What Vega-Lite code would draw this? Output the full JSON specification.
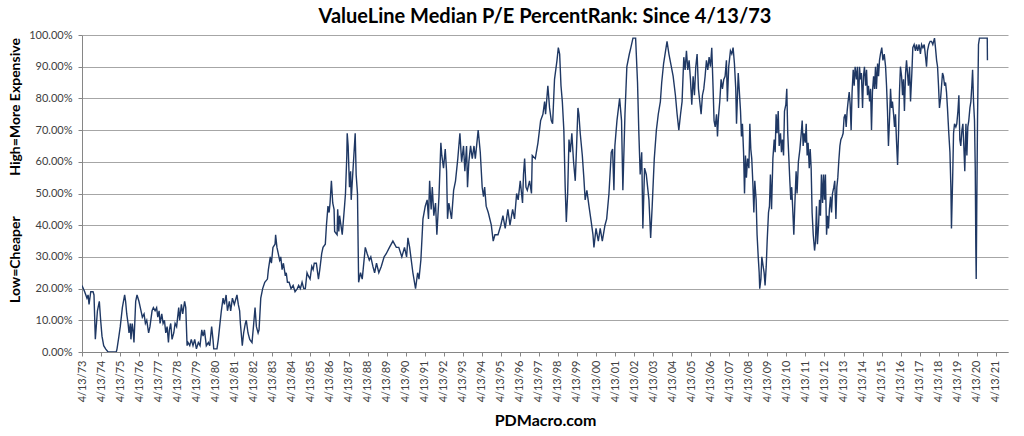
{
  "$schema": "https://vega.github.io/schema/vega-lite/v6.json",
  "autosize": {"type": "none"},
  "width": 926,
  "height": 317,
  "padding": {"left": 82, "top": 35, "right": 16, "bottom": 84},
  "background": "white",
  "title": {
    "text": "ValueLine Median P/E PercentRank: Since 4/13/73",
    "font": "Lato",
    "fontSize": 20,
    "fontWeight": "bold",
    "color": "#000000",
    "anchor": "middle",
    "offset": 2
  },
  "data": {
    "values": [
      {"t": 1973.28, "v": 0.21}, {"t": 1973.42, "v": 0.19}, {"t": 1973.54, "v": 0.17}, {"t": 1973.60, "v": 0.18},
      {"t": 1973.65, "v": 0.15}, {"t": 1973.74, "v": 0.19}, {"t": 1973.86, "v": 0.19}, {"t": 1973.91, "v": 0.18},
      {"t": 1973.98, "v": 0.04}, {"t": 1974.09, "v": 0.13}, {"t": 1974.19, "v": 0.16}, {"t": 1974.26, "v": 0.10},
      {"t": 1974.33, "v": 0.05}, {"t": 1974.42, "v": 0.02}, {"t": 1974.52, "v": 0.01}, {"t": 1974.65, "v": 0.0},
      {"t": 1975.08, "v": 0.0}, {"t": 1975.12, "v": 0.01}, {"t": 1975.22, "v": 0.05}, {"t": 1975.29, "v": 0.08},
      {"t": 1975.40, "v": 0.14}, {"t": 1975.52, "v": 0.18}, {"t": 1975.57, "v": 0.16}, {"t": 1975.63, "v": 0.12},
      {"t": 1975.70, "v": 0.09}, {"t": 1975.75, "v": 0.06}, {"t": 1975.82, "v": 0.09}, {"t": 1975.85, "v": 0.04},
      {"t": 1975.92, "v": 0.09}, {"t": 1975.96, "v": 0.07}, {"t": 1976.01, "v": 0.03}, {"t": 1976.10, "v": 0.16},
      {"t": 1976.17, "v": 0.18}, {"t": 1976.27, "v": 0.16}, {"t": 1976.38, "v": 0.13}, {"t": 1976.45, "v": 0.11},
      {"t": 1976.54, "v": 0.12}, {"t": 1976.61, "v": 0.09}, {"t": 1976.68, "v": 0.10}, {"t": 1976.78, "v": 0.06},
      {"t": 1976.85, "v": 0.08}, {"t": 1976.96, "v": 0.13}, {"t": 1977.03, "v": 0.14}, {"t": 1977.12, "v": 0.13},
      {"t": 1977.20, "v": 0.14}, {"t": 1977.26, "v": 0.11}, {"t": 1977.33, "v": 0.13}, {"t": 1977.38, "v": 0.09},
      {"t": 1977.47, "v": 0.12}, {"t": 1977.54, "v": 0.09}, {"t": 1977.61, "v": 0.10}, {"t": 1977.68, "v": 0.06},
      {"t": 1977.75, "v": 0.08}, {"t": 1977.82, "v": 0.03}, {"t": 1977.87, "v": 0.07}, {"t": 1977.94, "v": 0.09},
      {"t": 1978.01, "v": 0.04}, {"t": 1978.10, "v": 0.06}, {"t": 1978.17, "v": 0.09}, {"t": 1978.25, "v": 0.08},
      {"t": 1978.36, "v": 0.14}, {"t": 1978.41, "v": 0.10}, {"t": 1978.50, "v": 0.15}, {"t": 1978.57, "v": 0.12},
      {"t": 1978.67, "v": 0.16}, {"t": 1978.73, "v": 0.14}, {"t": 1978.80, "v": 0.02}, {"t": 1978.85, "v": 0.03},
      {"t": 1978.94, "v": 0.02}, {"t": 1979.02, "v": 0.04}, {"t": 1979.11, "v": 0.02}, {"t": 1979.20, "v": 0.04},
      {"t": 1979.29, "v": 0.01}, {"t": 1979.39, "v": 0.03}, {"t": 1979.48, "v": 0.02}, {"t": 1979.57, "v": 0.07},
      {"t": 1979.64, "v": 0.05}, {"t": 1979.71, "v": 0.07}, {"t": 1979.81, "v": 0.02}, {"t": 1979.92, "v": 0.03},
      {"t": 1979.99, "v": 0.02}, {"t": 1980.09, "v": 0.08}, {"t": 1980.16, "v": 0.04}, {"t": 1980.20, "v": 0.01},
      {"t": 1980.37, "v": 0.01}, {"t": 1980.44, "v": 0.04}, {"t": 1980.51, "v": 0.08}, {"t": 1980.60, "v": 0.13},
      {"t": 1980.69, "v": 0.17}, {"t": 1980.76, "v": 0.15}, {"t": 1980.85, "v": 0.18}, {"t": 1980.92, "v": 0.13},
      {"t": 1981.02, "v": 0.16}, {"t": 1981.09, "v": 0.13}, {"t": 1981.18, "v": 0.17}, {"t": 1981.28, "v": 0.15},
      {"t": 1981.42, "v": 0.18}, {"t": 1981.49, "v": 0.15}, {"t": 1981.56, "v": 0.13}, {"t": 1981.60, "v": 0.09},
      {"t": 1981.70, "v": 0.02}, {"t": 1981.77, "v": 0.06}, {"t": 1981.86, "v": 0.09}, {"t": 1981.91, "v": 0.10},
      {"t": 1982.00, "v": 0.06}, {"t": 1982.09, "v": 0.04}, {"t": 1982.21, "v": 0.03}, {"t": 1982.30, "v": 0.09},
      {"t": 1982.37, "v": 0.14}, {"t": 1982.44, "v": 0.08}, {"t": 1982.53, "v": 0.06}, {"t": 1982.58, "v": 0.07},
      {"t": 1982.67, "v": 0.17}, {"t": 1982.77, "v": 0.20}, {"t": 1982.88, "v": 0.22}, {"t": 1983.02, "v": 0.23},
      {"t": 1983.07, "v": 0.26}, {"t": 1983.17, "v": 0.30}, {"t": 1983.23, "v": 0.28}, {"t": 1983.31, "v": 0.33},
      {"t": 1983.42, "v": 0.34}, {"t": 1983.45, "v": 0.37}, {"t": 1983.52, "v": 0.33}, {"t": 1983.59, "v": 0.31},
      {"t": 1983.66, "v": 0.29}, {"t": 1983.72, "v": 0.30}, {"t": 1983.79, "v": 0.26}, {"t": 1983.86, "v": 0.28},
      {"t": 1983.96, "v": 0.24}, {"t": 1984.01, "v": 0.25}, {"t": 1984.07, "v": 0.22}, {"t": 1984.16, "v": 0.22},
      {"t": 1984.26, "v": 0.20}, {"t": 1984.37, "v": 0.21}, {"t": 1984.47, "v": 0.19}, {"t": 1984.59, "v": 0.20},
      {"t": 1984.66, "v": 0.21}, {"t": 1984.75, "v": 0.20}, {"t": 1984.84, "v": 0.22}, {"t": 1984.93, "v": 0.20},
      {"t": 1985.01, "v": 0.20}, {"t": 1985.10, "v": 0.25}, {"t": 1985.17, "v": 0.24}, {"t": 1985.26, "v": 0.23},
      {"t": 1985.35, "v": 0.27}, {"t": 1985.42, "v": 0.26}, {"t": 1985.48, "v": 0.28}, {"t": 1985.59, "v": 0.28},
      {"t": 1985.70, "v": 0.23}, {"t": 1985.77, "v": 0.26}, {"t": 1985.87, "v": 0.31}, {"t": 1985.94, "v": 0.33},
      {"t": 1986.06, "v": 0.34}, {"t": 1986.12, "v": 0.40}, {"t": 1986.20, "v": 0.46}, {"t": 1986.26, "v": 0.44},
      {"t": 1986.31, "v": 0.47}, {"t": 1986.38, "v": 0.54}, {"t": 1986.45, "v": 0.47}, {"t": 1986.52, "v": 0.45},
      {"t": 1986.55, "v": 0.38}, {"t": 1986.68, "v": 0.37}, {"t": 1986.71, "v": 0.45}, {"t": 1986.77, "v": 0.38},
      {"t": 1986.81, "v": 0.43}, {"t": 1986.95, "v": 0.37}, {"t": 1987.07, "v": 0.46}, {"t": 1987.12, "v": 0.50},
      {"t": 1987.19, "v": 0.62}, {"t": 1987.21, "v": 0.69}, {"t": 1987.26, "v": 0.65}, {"t": 1987.33, "v": 0.52},
      {"t": 1987.39, "v": 0.57}, {"t": 1987.42, "v": 0.48}, {"t": 1987.51, "v": 0.57}, {"t": 1987.56, "v": 0.62},
      {"t": 1987.63, "v": 0.69}, {"t": 1987.68, "v": 0.56}, {"t": 1987.75, "v": 0.50}, {"t": 1987.81, "v": 0.22},
      {"t": 1987.91, "v": 0.25}, {"t": 1988.00, "v": 0.23}, {"t": 1988.16, "v": 0.33}, {"t": 1988.26, "v": 0.31},
      {"t": 1988.37, "v": 0.29}, {"t": 1988.45, "v": 0.30}, {"t": 1988.56, "v": 0.27}, {"t": 1988.65, "v": 0.25},
      {"t": 1988.75, "v": 0.28}, {"t": 1988.87, "v": 0.25}, {"t": 1989.00, "v": 0.27}, {"t": 1989.15, "v": 0.30},
      {"t": 1989.26, "v": 0.31}, {"t": 1989.43, "v": 0.33}, {"t": 1989.61, "v": 0.35}, {"t": 1989.79, "v": 0.33},
      {"t": 1989.92, "v": 0.33}, {"t": 1990.08, "v": 0.30}, {"t": 1990.22, "v": 0.33}, {"t": 1990.33, "v": 0.30},
      {"t": 1990.40, "v": 0.36}, {"t": 1990.49, "v": 0.33}, {"t": 1990.66, "v": 0.25}, {"t": 1990.80, "v": 0.20},
      {"t": 1990.91, "v": 0.25}, {"t": 1990.98, "v": 0.23}, {"t": 1991.08, "v": 0.29}, {"t": 1991.19, "v": 0.42},
      {"t": 1991.31, "v": 0.46}, {"t": 1991.41, "v": 0.48}, {"t": 1991.48, "v": 0.42}, {"t": 1991.54, "v": 0.54},
      {"t": 1991.62, "v": 0.45}, {"t": 1991.68, "v": 0.52}, {"t": 1991.76, "v": 0.43}, {"t": 1991.85, "v": 0.47},
      {"t": 1991.92, "v": 0.37}, {"t": 1992.03, "v": 0.49}, {"t": 1992.13, "v": 0.66}, {"t": 1992.18, "v": 0.62},
      {"t": 1992.27, "v": 0.58}, {"t": 1992.36, "v": 0.64}, {"t": 1992.43, "v": 0.57}, {"t": 1992.48, "v": 0.42},
      {"t": 1992.55, "v": 0.47}, {"t": 1992.69, "v": 0.42}, {"t": 1992.80, "v": 0.51}, {"t": 1992.90, "v": 0.54},
      {"t": 1993.02, "v": 0.61}, {"t": 1993.13, "v": 0.69}, {"t": 1993.22, "v": 0.60}, {"t": 1993.32, "v": 0.65},
      {"t": 1993.39, "v": 0.57}, {"t": 1993.48, "v": 0.65}, {"t": 1993.53, "v": 0.52}, {"t": 1993.60, "v": 0.60},
      {"t": 1993.69, "v": 0.65}, {"t": 1993.78, "v": 0.61}, {"t": 1993.87, "v": 0.65}, {"t": 1993.94, "v": 0.61},
      {"t": 1994.09, "v": 0.70}, {"t": 1994.20, "v": 0.63}, {"t": 1994.30, "v": 0.52}, {"t": 1994.37, "v": 0.49},
      {"t": 1994.43, "v": 0.52}, {"t": 1994.51, "v": 0.46}, {"t": 1994.62, "v": 0.44}, {"t": 1994.78, "v": 0.40},
      {"t": 1994.88, "v": 0.35}, {"t": 1994.97, "v": 0.37}, {"t": 1995.13, "v": 0.37}, {"t": 1995.28, "v": 0.40},
      {"t": 1995.39, "v": 0.43}, {"t": 1995.51, "v": 0.39}, {"t": 1995.65, "v": 0.45}, {"t": 1995.76, "v": 0.40},
      {"t": 1995.90, "v": 0.45}, {"t": 1996.00, "v": 0.42}, {"t": 1996.11, "v": 0.50}, {"t": 1996.19, "v": 0.48},
      {"t": 1996.30, "v": 0.54}, {"t": 1996.42, "v": 0.47}, {"t": 1996.47, "v": 0.56}, {"t": 1996.53, "v": 0.61},
      {"t": 1996.60, "v": 0.52}, {"t": 1996.67, "v": 0.51}, {"t": 1996.79, "v": 0.54}, {"t": 1996.89, "v": 0.50},
      {"t": 1996.93, "v": 0.62}, {"t": 1997.09, "v": 0.61}, {"t": 1997.23, "v": 0.66}, {"t": 1997.37, "v": 0.73},
      {"t": 1997.49, "v": 0.75}, {"t": 1997.58, "v": 0.79}, {"t": 1997.63, "v": 0.75}, {"t": 1997.75, "v": 0.84},
      {"t": 1997.84, "v": 0.77}, {"t": 1997.93, "v": 0.73}, {"t": 1998.00, "v": 0.72}, {"t": 1998.10, "v": 0.86},
      {"t": 1998.23, "v": 0.92}, {"t": 1998.30, "v": 0.96}, {"t": 1998.37, "v": 0.94}, {"t": 1998.44, "v": 0.84},
      {"t": 1998.51, "v": 0.79}, {"t": 1998.59, "v": 0.70}, {"t": 1998.66, "v": 0.52}, {"t": 1998.72, "v": 0.41},
      {"t": 1998.79, "v": 0.50}, {"t": 1998.86, "v": 0.67}, {"t": 1998.93, "v": 0.63}, {"t": 1999.01, "v": 0.69},
      {"t": 1999.10, "v": 0.60}, {"t": 1999.19, "v": 0.54}, {"t": 1999.26, "v": 0.65}, {"t": 1999.33, "v": 0.77},
      {"t": 1999.38, "v": 0.75}, {"t": 1999.45, "v": 0.69}, {"t": 1999.56, "v": 0.62}, {"t": 1999.64, "v": 0.55},
      {"t": 1999.71, "v": 0.48}, {"t": 1999.80, "v": 0.51}, {"t": 1999.91, "v": 0.46}, {"t": 2000.03, "v": 0.41},
      {"t": 2000.12, "v": 0.37}, {"t": 2000.17, "v": 0.33}, {"t": 2000.28, "v": 0.39}, {"t": 2000.40, "v": 0.35},
      {"t": 2000.50, "v": 0.39}, {"t": 2000.61, "v": 0.35}, {"t": 2000.75, "v": 0.40}, {"t": 2000.84, "v": 0.42},
      {"t": 2000.96, "v": 0.50}, {"t": 2001.08, "v": 0.63}, {"t": 2001.15, "v": 0.64}, {"t": 2001.22, "v": 0.51},
      {"t": 2001.27, "v": 0.65}, {"t": 2001.38, "v": 0.73}, {"t": 2001.52, "v": 0.80}, {"t": 2001.62, "v": 0.73},
      {"t": 2001.69, "v": 0.51}, {"t": 2001.80, "v": 0.75}, {"t": 2001.90, "v": 0.90}, {"t": 2002.03, "v": 0.94},
      {"t": 2002.11, "v": 0.96}, {"t": 2002.22, "v": 0.99}, {"t": 2002.36, "v": 0.99}, {"t": 2002.46, "v": 0.85},
      {"t": 2002.53, "v": 0.69}, {"t": 2002.60, "v": 0.56}, {"t": 2002.68, "v": 0.63}, {"t": 2002.74, "v": 0.39},
      {"t": 2002.83, "v": 0.58}, {"t": 2002.92, "v": 0.56}, {"t": 2003.06, "v": 0.48}, {"t": 2003.15, "v": 0.36},
      {"t": 2003.23, "v": 0.46}, {"t": 2003.34, "v": 0.61}, {"t": 2003.45, "v": 0.70}, {"t": 2003.55, "v": 0.75},
      {"t": 2003.66, "v": 0.79}, {"t": 2003.73, "v": 0.85}, {"t": 2003.83, "v": 0.91}, {"t": 2004.01, "v": 0.98},
      {"t": 2004.11, "v": 0.94}, {"t": 2004.33, "v": 0.87}, {"t": 2004.45, "v": 0.81}, {"t": 2004.54, "v": 0.75},
      {"t": 2004.63, "v": 0.70}, {"t": 2004.72, "v": 0.75}, {"t": 2004.80, "v": 0.79}, {"t": 2004.89, "v": 0.93},
      {"t": 2004.96, "v": 0.89}, {"t": 2005.03, "v": 0.95}, {"t": 2005.10, "v": 0.89}, {"t": 2005.17, "v": 0.92},
      {"t": 2005.24, "v": 0.86}, {"t": 2005.31, "v": 0.78}, {"t": 2005.38, "v": 0.87}, {"t": 2005.45, "v": 0.81},
      {"t": 2005.52, "v": 0.90}, {"t": 2005.59, "v": 0.94}, {"t": 2005.66, "v": 0.83}, {"t": 2005.73, "v": 0.79},
      {"t": 2005.80, "v": 0.75}, {"t": 2005.87, "v": 0.81}, {"t": 2005.94, "v": 0.83}, {"t": 2006.01, "v": 0.87},
      {"t": 2006.08, "v": 0.92}, {"t": 2006.15, "v": 0.89}, {"t": 2006.22, "v": 0.93}, {"t": 2006.29, "v": 0.90},
      {"t": 2006.36, "v": 0.96}, {"t": 2006.43, "v": 0.83}, {"t": 2006.48, "v": 0.73}, {"t": 2006.54, "v": 0.71},
      {"t": 2006.61, "v": 0.75}, {"t": 2006.66, "v": 0.68}, {"t": 2006.71, "v": 0.74}, {"t": 2006.78, "v": 0.79},
      {"t": 2006.85, "v": 0.86}, {"t": 2006.92, "v": 0.83}, {"t": 2006.99, "v": 0.86}, {"t": 2007.06, "v": 0.87},
      {"t": 2007.13, "v": 0.92}, {"t": 2007.18, "v": 0.79}, {"t": 2007.25, "v": 0.90}, {"t": 2007.34, "v": 0.95},
      {"t": 2007.41, "v": 0.94}, {"t": 2007.48, "v": 0.96}, {"t": 2007.55, "v": 0.91}, {"t": 2007.62, "v": 0.83},
      {"t": 2007.66, "v": 0.72}, {"t": 2007.75, "v": 0.88}, {"t": 2007.80, "v": 0.83}, {"t": 2007.87, "v": 0.76},
      {"t": 2007.92, "v": 0.68}, {"t": 2007.97, "v": 0.72}, {"t": 2008.03, "v": 0.63}, {"t": 2008.08, "v": 0.50},
      {"t": 2008.13, "v": 0.62}, {"t": 2008.18, "v": 0.55}, {"t": 2008.24, "v": 0.61}, {"t": 2008.31, "v": 0.58},
      {"t": 2008.36, "v": 0.72}, {"t": 2008.41, "v": 0.64}, {"t": 2008.46, "v": 0.61}, {"t": 2008.52, "v": 0.53},
      {"t": 2008.57, "v": 0.44}, {"t": 2008.62, "v": 0.54}, {"t": 2008.69, "v": 0.48}, {"t": 2008.74, "v": 0.37},
      {"t": 2008.80, "v": 0.30}, {"t": 2008.85, "v": 0.25}, {"t": 2008.88, "v": 0.20}, {"t": 2008.94, "v": 0.23},
      {"t": 2008.99, "v": 0.30}, {"t": 2009.06, "v": 0.27}, {"t": 2009.11, "v": 0.25}, {"t": 2009.16, "v": 0.21},
      {"t": 2009.22, "v": 0.27}, {"t": 2009.27, "v": 0.35}, {"t": 2009.34, "v": 0.44}, {"t": 2009.39, "v": 0.46},
      {"t": 2009.44, "v": 0.56}, {"t": 2009.50, "v": 0.45}, {"t": 2009.57, "v": 0.61}, {"t": 2009.64, "v": 0.67},
      {"t": 2009.69, "v": 0.63}, {"t": 2009.74, "v": 0.75}, {"t": 2009.79, "v": 0.69}, {"t": 2009.85, "v": 0.76},
      {"t": 2009.90, "v": 0.65}, {"t": 2009.97, "v": 0.69}, {"t": 2010.02, "v": 0.63}, {"t": 2010.07, "v": 0.67},
      {"t": 2010.13, "v": 0.62}, {"t": 2010.18, "v": 0.76}, {"t": 2010.25, "v": 0.78}, {"t": 2010.30, "v": 0.83},
      {"t": 2010.35, "v": 0.69}, {"t": 2010.41, "v": 0.61}, {"t": 2010.46, "v": 0.54}, {"t": 2010.51, "v": 0.48},
      {"t": 2010.56, "v": 0.52}, {"t": 2010.62, "v": 0.44}, {"t": 2010.67, "v": 0.37}, {"t": 2010.72, "v": 0.46},
      {"t": 2010.79, "v": 0.57}, {"t": 2010.84, "v": 0.50}, {"t": 2010.91, "v": 0.60}, {"t": 2010.99, "v": 0.64},
      {"t": 2011.06, "v": 0.69}, {"t": 2011.11, "v": 0.73}, {"t": 2011.16, "v": 0.65}, {"t": 2011.21, "v": 0.69},
      {"t": 2011.27, "v": 0.66}, {"t": 2011.32, "v": 0.72}, {"t": 2011.37, "v": 0.62}, {"t": 2011.42, "v": 0.66},
      {"t": 2011.48, "v": 0.58}, {"t": 2011.53, "v": 0.64}, {"t": 2011.58, "v": 0.58}, {"t": 2011.63, "v": 0.44},
      {"t": 2011.69, "v": 0.37}, {"t": 2011.76, "v": 0.32}, {"t": 2011.81, "v": 0.35}, {"t": 2011.86, "v": 0.46},
      {"t": 2011.91, "v": 0.34}, {"t": 2011.97, "v": 0.40}, {"t": 2012.02, "v": 0.48}, {"t": 2012.07, "v": 0.43},
      {"t": 2012.12, "v": 0.56}, {"t": 2012.18, "v": 0.47}, {"t": 2012.23, "v": 0.56}, {"t": 2012.28, "v": 0.48},
      {"t": 2012.33, "v": 0.56}, {"t": 2012.39, "v": 0.37}, {"t": 2012.44, "v": 0.43}, {"t": 2012.49, "v": 0.39},
      {"t": 2012.54, "v": 0.45}, {"t": 2012.60, "v": 0.49}, {"t": 2012.65, "v": 0.44}, {"t": 2012.70, "v": 0.50},
      {"t": 2012.77, "v": 0.52}, {"t": 2012.82, "v": 0.54}, {"t": 2012.88, "v": 0.42}, {"t": 2012.93, "v": 0.52},
      {"t": 2012.98, "v": 0.55}, {"t": 2013.03, "v": 0.60}, {"t": 2013.09, "v": 0.65}, {"t": 2013.14, "v": 0.67},
      {"t": 2013.21, "v": 0.68}, {"t": 2013.26, "v": 0.69}, {"t": 2013.31, "v": 0.74}, {"t": 2013.37, "v": 0.75},
      {"t": 2013.42, "v": 0.71}, {"t": 2013.47, "v": 0.76}, {"t": 2013.52, "v": 0.79}, {"t": 2013.58, "v": 0.82},
      {"t": 2013.63, "v": 0.78}, {"t": 2013.68, "v": 0.70}, {"t": 2013.73, "v": 0.82}, {"t": 2013.79, "v": 0.89},
      {"t": 2013.84, "v": 0.84}, {"t": 2013.89, "v": 0.90}, {"t": 2013.96, "v": 0.86}, {"t": 2014.01, "v": 0.90},
      {"t": 2014.07, "v": 0.77}, {"t": 2014.12, "v": 0.90}, {"t": 2014.17, "v": 0.86}, {"t": 2014.22, "v": 0.88},
      {"t": 2014.28, "v": 0.77}, {"t": 2014.33, "v": 0.87}, {"t": 2014.38, "v": 0.90}, {"t": 2014.44, "v": 0.84},
      {"t": 2014.49, "v": 0.89}, {"t": 2014.54, "v": 0.81}, {"t": 2014.59, "v": 0.84}, {"t": 2014.65, "v": 0.79},
      {"t": 2014.70, "v": 0.83}, {"t": 2014.75, "v": 0.70}, {"t": 2014.80, "v": 0.82}, {"t": 2014.86, "v": 0.87},
      {"t": 2014.91, "v": 0.83}, {"t": 2014.96, "v": 0.90}, {"t": 2015.01, "v": 0.83}, {"t": 2015.07, "v": 0.91},
      {"t": 2015.12, "v": 0.87}, {"t": 2015.17, "v": 0.92}, {"t": 2015.22, "v": 0.94}, {"t": 2015.29, "v": 0.96},
      {"t": 2015.35, "v": 0.92}, {"t": 2015.42, "v": 0.94}, {"t": 2015.49, "v": 0.90}, {"t": 2015.54, "v": 0.84},
      {"t": 2015.59, "v": 0.76}, {"t": 2015.64, "v": 0.65}, {"t": 2015.70, "v": 0.74}, {"t": 2015.75, "v": 0.83},
      {"t": 2015.80, "v": 0.77}, {"t": 2015.85, "v": 0.79}, {"t": 2015.91, "v": 0.75}, {"t": 2015.96, "v": 0.71},
      {"t": 2016.01, "v": 0.75}, {"t": 2016.06, "v": 0.67}, {"t": 2016.12, "v": 0.59}, {"t": 2016.17, "v": 0.69},
      {"t": 2016.22, "v": 0.82}, {"t": 2016.27, "v": 0.90}, {"t": 2016.33, "v": 0.87}, {"t": 2016.38, "v": 0.81},
      {"t": 2016.43, "v": 0.86}, {"t": 2016.48, "v": 0.76}, {"t": 2016.54, "v": 0.88}, {"t": 2016.59, "v": 0.92},
      {"t": 2016.64, "v": 0.88}, {"t": 2016.69, "v": 0.84}, {"t": 2016.75, "v": 0.90}, {"t": 2016.80, "v": 0.79},
      {"t": 2016.87, "v": 0.88}, {"t": 2016.92, "v": 0.96}, {"t": 2016.99, "v": 0.97}, {"t": 2017.06, "v": 0.95},
      {"t": 2017.11, "v": 0.97}, {"t": 2017.18, "v": 0.95}, {"t": 2017.25, "v": 0.97}, {"t": 2017.32, "v": 0.94},
      {"t": 2017.38, "v": 0.97}, {"t": 2017.45, "v": 0.96}, {"t": 2017.52, "v": 0.97}, {"t": 2017.59, "v": 0.93},
      {"t": 2017.64, "v": 0.90}, {"t": 2017.69, "v": 0.95}, {"t": 2017.76, "v": 0.97}, {"t": 2017.83, "v": 0.98},
      {"t": 2017.90, "v": 0.98}, {"t": 2017.97, "v": 0.97}, {"t": 2018.06, "v": 0.99}, {"t": 2018.11, "v": 0.96},
      {"t": 2018.17, "v": 0.92}, {"t": 2018.22, "v": 0.90}, {"t": 2018.27, "v": 0.84}, {"t": 2018.32, "v": 0.77},
      {"t": 2018.38, "v": 0.80}, {"t": 2018.43, "v": 0.84}, {"t": 2018.48, "v": 0.88}, {"t": 2018.53, "v": 0.87},
      {"t": 2018.59, "v": 0.84}, {"t": 2018.64, "v": 0.85}, {"t": 2018.69, "v": 0.82}, {"t": 2018.74, "v": 0.77},
      {"t": 2018.81, "v": 0.69}, {"t": 2018.87, "v": 0.63}, {"t": 2018.92, "v": 0.52}, {"t": 2018.95, "v": 0.39},
      {"t": 2019.01, "v": 0.54}, {"t": 2019.06, "v": 0.69}, {"t": 2019.11, "v": 0.72}, {"t": 2019.18, "v": 0.71},
      {"t": 2019.23, "v": 0.72}, {"t": 2019.29, "v": 0.76}, {"t": 2019.34, "v": 0.81}, {"t": 2019.39, "v": 0.67},
      {"t": 2019.44, "v": 0.65}, {"t": 2019.50, "v": 0.70}, {"t": 2019.55, "v": 0.72}, {"t": 2019.60, "v": 0.65},
      {"t": 2019.65, "v": 0.57}, {"t": 2019.71, "v": 0.72}, {"t": 2019.76, "v": 0.62}, {"t": 2019.81, "v": 0.71},
      {"t": 2019.86, "v": 0.73}, {"t": 2019.92, "v": 0.77}, {"t": 2019.97, "v": 0.79}, {"t": 2020.02, "v": 0.84},
      {"t": 2020.06, "v": 0.89}, {"t": 2020.11, "v": 0.79}, {"t": 2020.16, "v": 0.73}, {"t": 2020.20, "v": 0.58},
      {"t": 2020.23, "v": 0.33}, {"t": 2020.25, "v": 0.23}, {"t": 2020.28, "v": 0.46}, {"t": 2020.32, "v": 0.74},
      {"t": 2020.37, "v": 0.97}, {"t": 2020.42, "v": 0.99}, {"t": 2020.65, "v": 0.99}, {"t": 2020.83, "v": 0.99},
      {"t": 2020.84, "v": 0.92}
    ]
  },
  "mark": {"type": "line", "color": "#1f3864", "strokeWidth": 1.4, "clip": true},
  "encoding": {
    "x": {
      "field": "t",
      "type": "quantitative",
      "scale": {"domain": [1973.28, 2021.92], "nice": false, "zero": false},
      "axis": {
        "title": "PDMacro.com",
        "titleFont": "Lato",
        "titleFontSize": 16,
        "titleFontWeight": "bold",
        "titleColor": "#000000",
        "titleY": 68,
        "titleBaseline": "middle",
        "values": [1973.28, 1974.28, 1975.28, 1976.28, 1977.28, 1978.28, 1979.28, 1980.28, 1981.28, 1982.28, 1983.28, 1984.28, 1985.28, 1986.28, 1987.28, 1988.28, 1989.28, 1990.28, 1991.28, 1992.28, 1993.28, 1994.28, 1995.28, 1996.28, 1997.28, 1998.28, 1999.28, 2000.28, 2001.28, 2002.28, 2003.28, 2004.28, 2005.28, 2006.28, 2007.28, 2008.28, 2009.28, 2010.28, 2011.28, 2012.28, 2013.28, 2014.28, 2015.28, 2016.28, 2017.28, 2018.28, 2019.28, 2020.28, 2021.28],
        "labelExpr": "'4/13/' + slice('' + floor(datum.value), 2)",
        "labelAngle": 270,
        "labelFont": "Lato",
        "labelFontSize": 11,
        "labelColor": "#404040",
        "labelOverlap": false,
        "labelPadding": 4,
        "grid": false,
        "domainColor": "#868686",
        "tickColor": "#868686",
        "tickSize": 4
      }
    },
    "y": {
      "field": "v",
      "type": "quantitative",
      "scale": {"domain": [0, 1], "nice": false},
      "axis": {
        "title": "Low=Cheaper\u00a0\u00a0\u00a0\u00a0\u00a0\u00a0\u00a0\u00a0\u00a0\u00a0\u00a0\u00a0High=More Expensive",
        "titleFont": "Lato",
        "titleFontSize": 14,
        "titleFontWeight": "bold",
        "titleColor": "#000000",
        "titleAngle": 270,
        "titleX": -67,
        "titleY": 135,
        "titleBaseline": "middle",
        "titleAlign": "center",
        "values": [0, 0.1, 0.2, 0.3, 0.4, 0.5, 0.6, 0.7, 0.8, 0.9, 1],
        "format": ".2%",
        "labelFont": "Lato",
        "labelFontSize": 11,
        "labelColor": "#404040",
        "labelPadding": 6,
        "grid": true,
        "gridColor": "#a6a6a6",
        "gridWidth": 1,
        "domainColor": "#868686",
        "tickColor": "#868686",
        "tickSize": 4
      }
    }
  },
  "config": {
    "view": {"stroke": null}
  }
}
